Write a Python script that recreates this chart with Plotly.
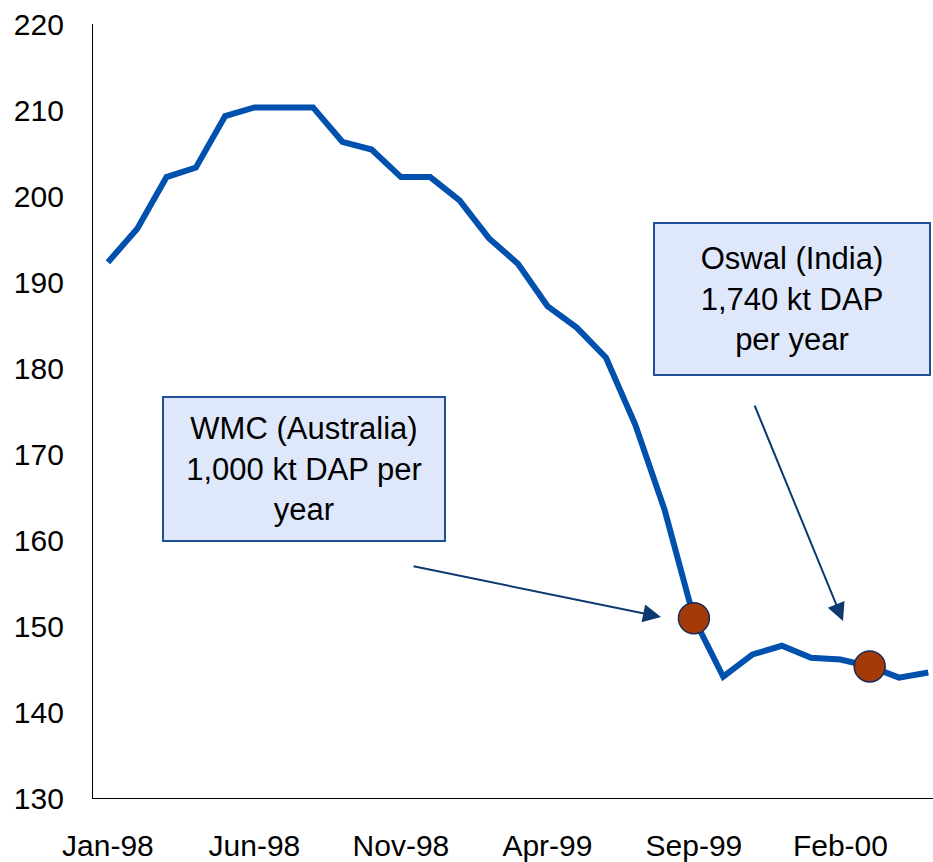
import plotly.graph_objects as go

months = ["Jan-98", "Feb-98", "Mar-98", "Apr-98", "May-98", "Jun-98", "Jul-98", "Aug-98",
          "Sep-98", "Oct-98", "Nov-98", "Dec-98", "Jan-99", "Feb-99", "Mar-99", "Apr-99",
          "May-99", "Jun-99", "Jul-99", "Aug-99", "Sep-99", "Oct-99", "Nov-99", "Dec-99",
          "Jan-00", "Feb-00", "Mar-00", "Apr-00", "May-00"]
price = [192.3, 196.2, 202.2, 203.3, 209.3, 210.3, 210.3, 210.3,
         206.3, 205.4, 202.2, 202.2, 199.5, 195.1, 192.1, 187.2,
         184.7, 181.2, 173.4, 163.5, 150.9, 144.1, 146.7, 147.7,
         146.3, 146.1, 145.3, 144.0, 144.6]
plant_months = ["Sep-99", "Mar-00"]
plant_values = [150.9, 145.3]
plant_labels = ["WMC (Australia)<br>1,000 kt DAP per<br>year",
                "Oswal (India)<br>1,740 kt DAP<br>per year"]
x_tick_labels = ["Jan-98", "Jun-98", "Nov-98", "Apr-99", "Sep-99", "Feb-00"]
y_ticks = [130, 140, 150, 160, 170, 180, 190, 200, 210, 220]

W, H = 933, 862
L, R, T, B = 93, 0, 24, 64
pw, ph = W - L - R, H - T - B


def px(x):  # screen x -> paper
    return (x - L) / pw


def py(y):  # screen y -> paper
    return (H - B - y) / ph


FONT = "Liberation Sans, Arial, sans-serif"

fig = go.Figure()
fig.add_trace(go.Scatter(
    x=months, y=price, mode="lines",
    line=dict(color="#0050AE", width=6), showlegend=False, hoverinfo="skip"))
fig.add_trace(go.Scatter(
    x=plant_months, y=plant_values, mode="markers",
    marker=dict(size=31, color="#A33A08", line=dict(color="#1B2A5E", width=1.5)),
    showlegend=False, cliponaxis=False, hoverinfo="skip"))

box_style = dict(xref="paper", yref="paper", showarrow=False,
                 font=dict(family=FONT, size=31, color="black"),
                 bgcolor="#DFE8FB", bordercolor="#1F4F96", borderwidth=2, borderpad=0,
                 align="center", xanchor="center", yanchor="middle")
fig.add_annotation(text=plant_labels[0], x=px(304), y=py(468.5), width=280, height=142, **box_style)
fig.add_annotation(text=plant_labels[1], x=px(792), y=py(299), width=274, height=150, **box_style)

arrow_style = dict(xref="paper", yref="paper", text="", showarrow=True,
                   arrowhead=2, arrowsize=1.8, arrowwidth=2, arrowcolor="#0D3A6E",
                   axref="pixel", ayref="pixel", standoff=0)
fig.add_annotation(x=px(661), y=py(617), ax=412 - 661, ay=566 - 617, **arrow_style)
fig.add_annotation(x=px(843), y=py(621), ax=754 - 843, ay=404 - 621, **arrow_style)

fig.update_layout(
    width=W, height=H,
    margin=dict(l=L, r=R, t=T, b=B, pad=0),
    paper_bgcolor="white", plot_bgcolor="white",
    font=dict(family=FONT, color="black"),
    xaxis=dict(type="category", range=[-0.51, 28.16], showgrid=False, zeroline=False,
               showline=True, linecolor="black", linewidth=1.2, ticks="",
               tickvals=x_tick_labels, ticktext=x_tick_labels,
               tickfont=dict(family=FONT, size=30, color="black"), ticklabelstandoff=21),
    yaxis=dict(range=[130, 220], showgrid=False, zeroline=False,
               showline=True, linecolor="black", linewidth=1.2, ticks="",
               tickvals=y_ticks, tickfont=dict(family=FONT, size=30, color="black"),
               ticklabelstandoff=22),
)

fig.write_html("out.html", config={"displayModeBar": False},
               post_script="document.body.style.margin='0';document.body.style.overflow='hidden';")
